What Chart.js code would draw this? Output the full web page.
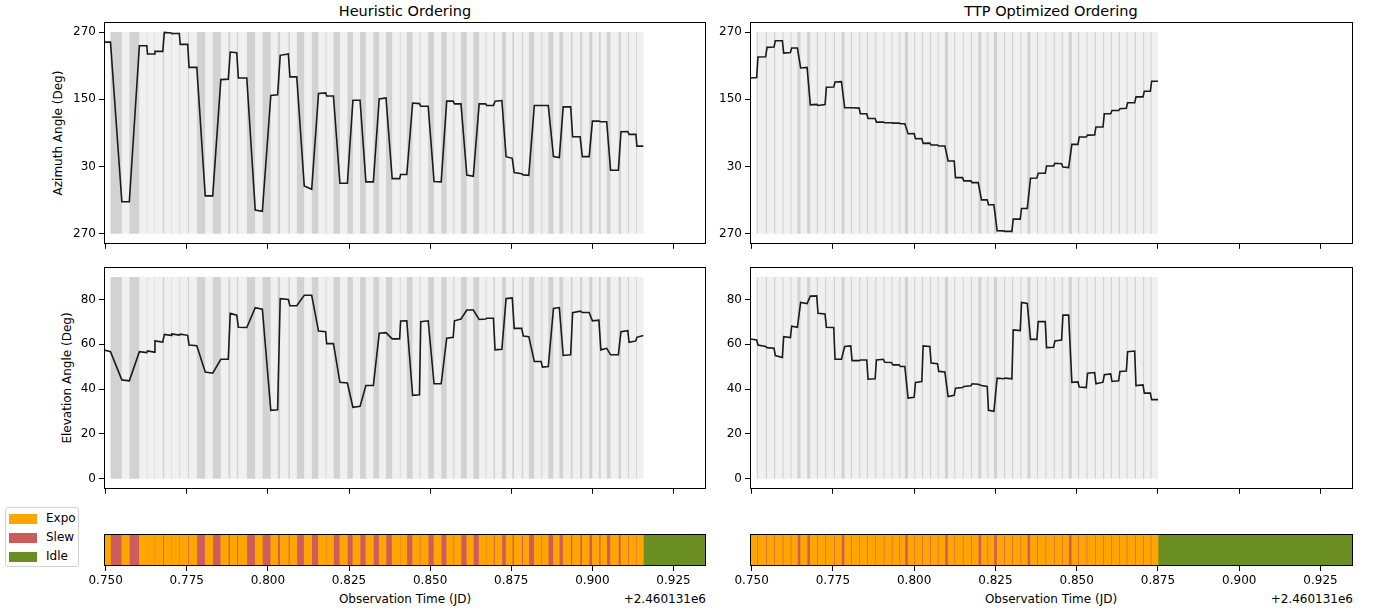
<!DOCTYPE html>
<html>
<head>
<meta charset="utf-8">
<script src="https://cdn.jsdelivr.net/npm/chart.js@4.4.1/dist/chart.umd.min.js"></script>
<style>
  body { margin: 0; background: #fff; width: 1378px; height: 612px; overflow: hidden; position: relative; font-family: "DejaVu Sans", sans-serif; color: #000; }
  canvas { position: absolute; }
  .txt { position: absolute; white-space: nowrap; transform: translate(-50%, -50%); font-size: 12px; }
  .title { font-size: 14.5px; }
  .ylab { transform: translate(-50%, -50%) rotate(-90deg); }
  .off { transform: translate(-100%, -50%); }
  #legend { position: absolute; left: 5px; top: 507px; width: 72px; height: 58px; border: 1px solid #d3d3d3; border-radius: 3px; background: #fff; font-size: 12px; }
  #legend .row { position: absolute; left: 3px; height: 14px; }
  #legend .sw { position: absolute; left: 0; top: 2px; width: 28px; height: 10px; }
  #legend .lb { position: absolute; left: 37px; top: -1px; }
</style>
</head>
<body>

<div class="txt title" style="left:405px; top:11px">Heuristic Ordering</div>
<div class="txt title" style="left:1051px; top:11px">TTP Optimized Ordering</div>
<div class="txt ylab" style="left:58px; top:133px">Azimuth Angle (Deg)</div>
<div class="txt ylab" style="left:67px; top:378px">Elevation Angle (Deg)</div>
<div class="txt" style="left:405px; top:599px">Observation Time (JD)</div>
<div class="txt" style="left:1051px; top:599px">Observation Time (JD)</div>
<div class="txt off" id="off1" style="left:706px; top:599px"></div>
<div class="txt off" id="off2" style="left:1353px; top:599px"></div>
<div id="legend"></div>

<script>
// x axis (JD minus offset)
const jdOffsetLabel = '+2.460131e6';
const xMin = 0.7495;
const xMax = 0.935;
const xTicks = [0.750, 0.775, 0.800, 0.825, 0.850, 0.875, 0.900, 0.925];

// y axes
const azTicks = [-90, 30, 150, 270];
const elTicks = [0, 20, 40, 60, 80];

// timeline states
const stateNames = ['Expo', 'Slew', 'Idle'];

// heuristic ordering: exposure windows, azimuth and elevation at their start and end
const heurStart = [0.7496, 0.7550, 0.7604, 0.7629, 0.7652, 0.7681, 0.7704, 0.7730, 0.7757, 0.7807,
  0.7855, 0.7884, 0.7909, 0.7961, 0.8009, 0.8038, 0.8068, 0.8112, 0.8156, 0.8181,
  0.8222, 0.8262, 0.8302, 0.8343, 0.8383, 0.8409, 0.8446, 0.8471, 0.8512, 0.8551,
  0.8575, 0.8613, 0.8651, 0.8674, 0.8700, 0.8734, 0.8759, 0.8787, 0.8821, 0.8846,
  0.8880, 0.8910, 0.8939, 0.8969, 0.9000, 0.9026, 0.9056, 0.9088, 0.9113, 0.9137];
const heurEnd = [0.7515, 0.7573, 0.7627, 0.7650, 0.7676, 0.7702, 0.7727, 0.7753, 0.7781, 0.7830,
  0.7878, 0.7904, 0.7935, 0.7983, 0.8030, 0.8063, 0.8089, 0.8135, 0.8178, 0.8202,
  0.8245, 0.8284, 0.8325, 0.8364, 0.8406, 0.8428, 0.8467, 0.8494, 0.8534, 0.8571,
  0.8595, 0.8633, 0.8671, 0.8695, 0.8721, 0.8753, 0.8782, 0.8804, 0.8842, 0.8864,
  0.8898, 0.8933, 0.8962, 0.8990, 0.9020, 0.9044, 0.9080, 0.9109, 0.9134, 0.9157];
const heurAzStart = [252, 327, 245.7, 231, 235.6, 269.4, 267.6, 248, 207, 337.6,
  185.2, 234.4, 188.1, 312.1, 156.7, 228.5, 190, 355.4, 160.3, 156,
  0.1, 148.4, 2.5, 150.8, 8.4, 15.6, 143.3, 137.7, 3.1, 146.7,
  141.9, 14.9, 141.9, 138.9, 146.7, 47.6, 19.1, 15, 138.9, 138.9,
  47.6, 136.5, 83.2, 47.6, 111, 110, 23.3, 92, 87.3, 66.4];
const heurAzEnd = [252, 327, 245.7, 231, 235.6, 268.5, 267.6, 248, 207, 337.6,
  186, 233, 188.1, 310, 158, 231, 190, 349.5, 161.5, 156,
  0.1, 148.4, 2.5, 152.5, 8.4, 15.6, 142.3, 137.7, 2.5, 146.7,
  141.9, 12.5, 141.9, 138.9, 147.8, 44.6, 17, 14.3, 138.9, 138.9,
  46, 136.5, 83.2, 47.6, 111, 110, 23.3, 92.5, 87.3, 66.4];
const heurElStart = [57.5, 44.1, 56.7, 57, 61.5, 64.4, 64.6, 64.5, 59.7, 47.6,
  53.3, 73.8, 67.6, 76.3, 30.5, 80.4, 77.2, 81.9, 65.9, 60.3,
  43, 31.9, 41.6, 64.9, 62.4, 70.4, 37.2, 70.1, 42.4, 62.7,
  70.5, 75.3, 71.1, 71.6, 57.5, 80.4, 67.1, 63.7, 52.3, 49.8,
  76, 55, 74.1, 74.2, 70.5, 57.5, 55.3, 65.6, 60.9, 63.1];
const heurElEnd = [56.7, 43.7, 56.3, 56.5, 61, 64, 64.1, 64, 59.4, 47.1,
  53.3, 73, 67.5, 75.7, 30.8, 80, 77.2, 81.9, 65.6, 60.3,
  42.7, 32.3, 41.6, 65.2, 62.4, 70.5, 37.5, 70.5, 42.4, 63.1,
  71.3, 75.3, 71.3, 71.6, 57.8, 80.7, 67.1, 63.4, 52.3, 50.1,
  76.4, 55.3, 74.8, 74.2, 70.8, 58.2, 55.3, 66.1, 61.5, 63.9];

// TTP optimized ordering
const ttpStart = [0.7496, 0.75195, 0.75473, 0.75729, 0.75986, 0.76232, 0.76508, 0.76806, 0.77043, 0.77299,
  0.77566, 0.77863, 0.78090, 0.78346, 0.78582, 0.78839, 0.79095, 0.79342, 0.79578, 0.79813,
  0.80040, 0.80276, 0.80522, 0.80758, 0.81045, 0.81271, 0.81528, 0.81784, 0.82071, 0.82287,
  0.82553, 0.82800, 0.83047, 0.83303, 0.83580, 0.83816, 0.84073, 0.84330, 0.84576, 0.84852,
  0.85079, 0.85335, 0.85592, 0.85849, 0.86085, 0.86331, 0.86567, 0.86824, 0.87080, 0.87306];
const ttpEnd = [0.75155, 0.75433, 0.75689, 0.75946, 0.76192, 0.76408, 0.76706, 0.77003, 0.77259, 0.77526,
  0.77763, 0.78050, 0.78306, 0.78542, 0.78799, 0.79055, 0.79302, 0.79538, 0.79713, 0.80000,
  0.80236, 0.80482, 0.80718, 0.80945, 0.81231, 0.81488, 0.81744, 0.81971, 0.82247, 0.82453,
  0.82760, 0.83007, 0.83263, 0.83480, 0.83776, 0.84033, 0.84290, 0.84536, 0.84752, 0.85039,
  0.85295, 0.85552, 0.85809, 0.86045, 0.86291, 0.86527, 0.86784, 0.87040, 0.87266, 0.87501];
const ttpAzStart = [188, 225.5, 242.7, 254.6, 232.6, 241.5, 205.9, 140, 139, 171.5,
  181, 134.8, 134.8, 124.1, 115.8, 109.3, 108.1, 107.5, 106.3, 88.5,
  79.6, 71.3, 68.3, 66.6, 39.9, 10.2, 4.3, 1.3, 330.5, 321.6,
  275.3, 274.1, 296.1, 315.1, 9, 17.9, 31, 35.7, 29.2, 69.5,
  82.6, 86.1, 100.4, 124.1, 130, 133, 143.7, 154.3, 164.4, 182.2];
const ttpAzEnd = [189, 226, 243.5, 254.6, 233.5, 241.5, 207, 141, 140.5, 172,
  181.5, 134.8, 134.2, 124.1, 115.8, 109.3, 108.1, 107.5, 106.3, 89,
  80, 71.8, 68.3, 66.6, 39.9, 10.2, 4.3, 1.3, 330.5, 321.6,
  275, 274.1, 296.1, 315.1, 9.5, 17.9, 31, 35, 28, 69.5,
  82.6, 86.5, 100.4, 124.1, 130, 134, 143.7, 154.3, 164.4, 182.2];
const ttpElStart = [62.4, 59.7, 58.5, 55, 63.4, 68.1, 78.7, 81.5, 73.8, 67.6,
  53.3, 59, 52.7, 53, 44.4, 53, 52, 50.8, 50.1, 36,
  43, 59.3, 51.6, 47.9, 36.7, 40.4, 41.2, 42.4, 41.6, 30.5,
  44.9, 44.9, 66.4, 78.7, 62.2, 70.1, 58.5, 61.5, 73, 43,
  40.9, 47.1, 42.4, 46.4, 43.4, 47.9, 56.7, 41.6, 38.2, 35.3];
const ttpElEnd = [61.9, 59, 58.2, 54.1, 63, 67.6, 78.2, 81.6, 73.5, 67.5,
  53.3, 59.3, 52.7, 53, 44.6, 53.3, 51.9, 50.8, 50.1, 36.3,
  43.4, 59, 51.3, 47.6, 37.2, 40.7, 41.5, 42.2, 41.2, 30.1,
  44.6, 44.6, 66.1, 78.2, 62.2, 70.1, 58.7, 61.9, 73, 43.2,
  40.7, 47.4, 43.1, 46.8, 43.7, 48.1, 57, 41.9, 38.2, 35.3];

// styling
const FONT = { family: 'DejaVu Sans', size: 12 };
const COLORS = { Expo: '#ffa500', Slew: '#cd5c5c', Idle: '#6b8e23' };
const BAND_EXPO = '#f0f0f0';
const BAND_SLEW = '#d2d2d2';
const LINE = '#1a1a1a';

document.getElementById('off1').textContent = jdOffsetLabel;
document.getElementById('off2').textContent = jdOffsetLabel;

// azimuths above 270 are drawn below, as negative angles
function wrapAz(a) { return a > 270 ? a - 360 : a; }
function azLabel(v) { return String(v < 0 ? v + 360 : v); }

function track(start, end, vs, ve, f) {
  const pts = [];
  start.forEach((s, i) => {
    pts.push({ x: s, y: f(vs[i]) });
    pts.push({ x: end[i], y: f(ve[i]) });
  });
  return pts;
}
function expoBars(start, end, from) {
  return start.slice(from).map((s, i) => ({ x: [s, end[i + from]], y: 'b' }));
}
function slewBars(start, end) {
  const out = [];
  for (let i = 1; i < start.length; i++) out.push({ x: [end[i - 1], start[i]], y: 'b' });
  return out;
}

const frame = {
  id: 'frame',
  afterDraw(chart) {
    const a = chart.chartArea, ctx = chart.ctx;
    ctx.save();
    ctx.strokeStyle = '#000';
    ctx.lineWidth = 1;
    ctx.strokeRect(Math.round(a.left) + 0.5, Math.round(a.top) + 0.5,
      Math.round(a.right - a.left) - 1, Math.round(a.bottom - a.top) - 1);
    ctx.restore();
  }
};

function makeCanvas(plot, m) {
  const c = document.createElement('canvas');
  const w = plot.x1 - plot.x0 + m.l + m.r;
  const h = plot.y1 - plot.y0 + m.t + m.b;
  c.width = w; c.height = h;
  c.style.left = (plot.x0 - m.l) + 'px';
  c.style.top = (plot.y0 - m.t) + 'px';
  c.style.width = w + 'px';
  c.style.height = h + 'px';
  document.body.appendChild(c);
  return c;
}

function xScale(m, showLabels) {
  return {
    type: 'linear', min: xMin, max: xMax,
    afterBuildTicks: s => { s.ticks = xTicks.map(v => ({ value: v })); },
    afterFit: s => { s.height = m.b; },
    grid: { drawOnChartArea: false, tickLength: 5, color: '#000' },
    border: { display: false },
    ticks: { display: showLabels, color: '#000', font: FONT, padding: 3, maxRotation: 0, autoSkip: false,
      callback: v => v.toFixed(3) }
  };
}

function anglePanel(plot, m, start, end, vs, ve, f, yMin, yMax, ticks, fmt, bandLo, bandHi) {
  const c = makeCanvas(plot, m);
  const frac = (bandHi - bandLo) / (yMax - yMin);
  new Chart(c, {
    type: 'line',
    data: {
      datasets: [
        { type: 'line', data: track(start, end, vs, ve, f), borderColor: LINE, borderWidth: 1.6,
          pointRadius: 0, tension: 0, fill: false, xAxisID: 'x', yAxisID: 'y', order: 0 },
        { type: 'bar', indexAxis: 'y', data: slewBars(start, end), backgroundColor: BAND_SLEW,
          xAxisID: 'x', yAxisID: 'yb', grouped: false, categoryPercentage: 1, barPercentage: frac, order: 1 },
        { type: 'bar', indexAxis: 'y', data: expoBars(start, end, 1), backgroundColor: BAND_EXPO,
          xAxisID: 'x', yAxisID: 'yb', grouped: false, categoryPercentage: 1, barPercentage: frac, order: 2 }
      ]
    },
    options: {
      responsive: false, animation: false, devicePixelRatio: 1,
      layout: { padding: { top: m.t, right: m.r, left: 0, bottom: 0 } },
      plugins: { legend: { display: false }, tooltip: { enabled: false } },
      scales: {
        x: xScale(m, false),
        y: {
          type: 'linear', position: 'left', min: yMin, max: yMax,
          afterBuildTicks: s => { s.ticks = ticks.map(v => ({ value: v })); },
          afterFit: s => { s.width = m.l; },
          grid: { drawOnChartArea: false, tickLength: 5, color: '#000' },
          border: { display: false },
          ticks: { color: '#000', font: FONT, padding: 3, callback: fmt }
        },
        yb: { type: 'category', labels: ['b'], display: false, offset: true }
      }
    },
    plugins: [frame]
  });
}

function timelinePanel(plot, m, start, end) {
  const c = makeCanvas(plot, m);
  new Chart(c, {
    type: 'bar',
    data: {
      datasets: [
        { label: stateNames[0], data: expoBars(start, end, 0), backgroundColor: COLORS.Expo, grouped: false },
        { label: stateNames[1], data: slewBars(start, end), backgroundColor: COLORS.Slew, grouped: false },
        { label: stateNames[2], data: [{ x: [end[end.length - 1], xMax], y: 'b' }], backgroundColor: COLORS.Idle, grouped: false }
      ]
    },
    options: {
      indexAxis: 'y',
      responsive: false, animation: false, devicePixelRatio: 1,
      layout: { padding: { top: m.t, right: m.r, left: m.l, bottom: 0 } },
      plugins: { legend: { display: false }, tooltip: { enabled: false } },
      datasets: { bar: { categoryPercentage: 1, barPercentage: 1 } },
      scales: {
        x: xScale(m, true),
        y: { type: 'category', labels: ['b'], display: false, offset: true }
      }
    },
    plugins: [frame]
  });
}

const cols = [
  { x0: 104, x1: 706, start: heurStart, end: heurEnd, azS: heurAzStart, azE: heurAzEnd, elS: heurElStart, elE: heurElEnd },
  { x0: 750, x1: 1353, start: ttpStart, end: ttpEnd, azS: ttpAzStart, azE: ttpAzEnd, elS: ttpElStart, elE: ttpElEnd }
];

cols.forEach(col => {
  anglePanel({ x0: col.x0, x1: col.x1, y0: 22, y1: 244 }, { l: 60, t: 22, r: 4, b: 10 },
    col.start, col.end, col.azS, col.azE, wrapAz, -108, 288, azTicks, azLabel, -90, 270);
  anglePanel({ x0: col.x0, x1: col.x1, y0: 267, y1: 489 }, { l: 60, t: 20, r: 4, b: 10 },
    col.start, col.end, col.elS, col.elE, v => v, -4.5, 94.5, elTicks, v => String(v), 0, 90);
  timelinePanel({ x0: col.x0, x1: col.x1, y0: 534, y1: 566 }, { l: 60, t: 10, r: 4, b: 30 },
    col.start, col.end);
});

// legend for the timeline states
const legend = document.getElementById('legend');
stateNames.forEach((name, i) => {
  const row = document.createElement('div');
  row.className = 'row';
  row.style.top = (4 + i * 19) + 'px';
  row.innerHTML = '<div class="sw" style="background:' + COLORS[name] + '"></div><div class="lb">' + name + '</div>';
  legend.appendChild(row);
});
</script>
</body>
</html>
